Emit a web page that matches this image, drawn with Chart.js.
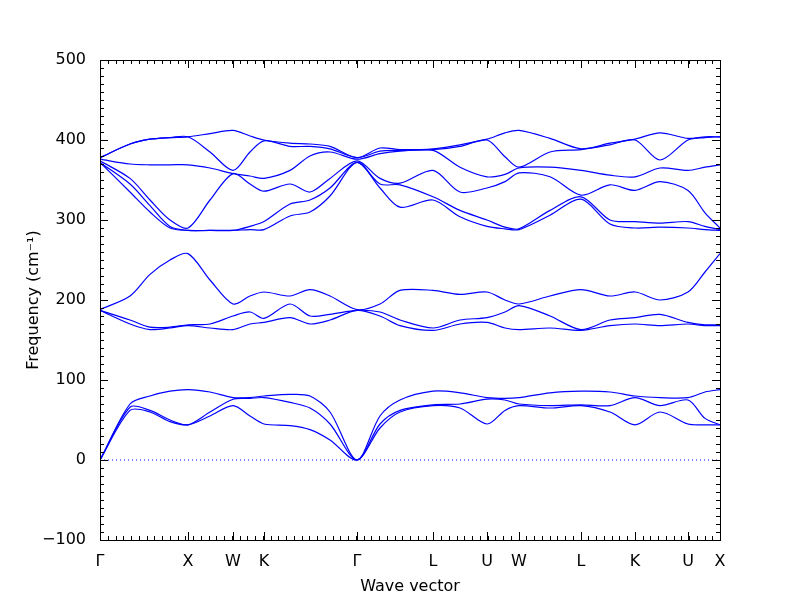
<!DOCTYPE html>
<html><head><meta charset="utf-8">
<script src="https://cdn.jsdelivr.net/npm/chart.js@4/dist/chart.umd.min.js"></script>
<style>html,body{margin:0;padding:0;background:#fff}#w{width:800px;height:600px}</style>
</head><body><div id="w"><canvas id="c" width="800" height="600"></canvas></div>
<script>
// path coordinate (0..620) of sampled q-points
const qPos = [0,30,50,70,88,110,133,150,164,190,210,230,257,280,300,333,360,387,405,419,450,481,510,535,560,588,605,620];
// high-symmetry labels and their path coordinates
const symLabels = ['Γ','X','W','K','Γ','L','U','W','L','K','U','X'];
const symPos = [0,88,133,164,257,333,387,419,481,535,588,620];
// acoustic branches (cm^-1), 3 per q-point
const acoustic = [[0,0,0],[62,66,70],[60,62,80],[48,50,86],[44,44,88],[55,60,85],[68,76,78],[55,77,78],[45,78,80],[43,72,82],[38,65,80],[25,45,60],[0,0,0],[40,45,55],[60,62,75],[68,69,86],[65,70,84],[45,76,78],[62,75,77],[68,70,78],[65,68,84],[68,69,86],[60,68,85],[44,78,80],[60,68,78],[45,75,78],[44,52,85],[44,44,88]];
// lower optical branches
const opticalLow = [[187,187,188],[170,175,205],[163,166,232],[165,166,250],[168,169,258],[165,170,225],[163,180,195],[170,185,205],[172,177,210],[178,195,205],[170,180,213],[175,182,205],[187,187,188],[180,185,195],[168,175,212],[162,165,212],[170,175,207],[172,178,210],[165,185,200],[163,193,195],[165,180,205],[162,163,213],[168,175,205],[170,178,210],[168,182,200],[170,172,210],[168,169,235],[168,169,258]];
// upper optical branches
const opticalHigh = [[372,372,374,376,378,378],[335,345,352,370,395,395],[310,318,325,369,401,401],[290,292,300,369,403,403],[287,287,290,369,404,404],[287,287,325,365,385,408],[287,287,358,358,362,412],[288,292,345,355,385,405],[288,298,336,352,399,400],[305,320,345,362,392,396],[310,325,335,380,392,395],[330,340,352,385,389,392],[372,372,374,376,378,378],[340,345,352,383,386,390],[316,344,346,386,387,388],[325,329,362,387,388,389],[304,312,335,366,392,394],[292,300,340,354,400,401],[289,291,348,357,379,409],[288,289,359,365,366,412],[306,312,354,366,385,402],[326,329,331,362,388,389],[295,300,344,356,394,396],[290,298,337,354,400,401],[291,296,348,365,375,409],[290,298,337,362,400,402],[288,292,309,366,403,404],[287,288,290,369,404,404]];
const yTicks = [-100,0,100,200,300,400,500];

const datasets = [];
[acoustic, opticalLow, opticalHigh].forEach(group => {
  const n = group[0].length;
  for (let b = 0; b < n; b++) {
    datasets.push({data: qPos.map((x,i)=>({x, y: group[i][b]})), borderColor:'#0000ff', borderWidth:1.2,
      pointRadius:0, tension:0.3, fill:false});
  }
});
datasets.push({data:[{x:0,y:0},{x:620,y:0}], borderColor:'#0000ff', borderWidth:1, borderDash:[1,3], pointRadius:0});

const frame = {
  id:'frame',
  afterDatasetsDraw(chart){
    const {ctx, chartArea:a, scales:{x,y}} = chart;
    ctx.save(); ctx.strokeStyle='#000'; ctx.lineWidth=1;
    ctx.strokeRect(a.left+0.5,a.top+0.5,a.right-a.left,a.bottom-a.top);
    ctx.beginPath();
    for (let v=-100; v<=500; v+=10){
      const p=Math.round(y.getPixelForValue(v))+0.5, L = v%100===0?8:4;
      ctx.moveTo(a.left,p); ctx.lineTo(a.left+L,p); ctx.moveTo(a.right,p); ctx.lineTo(a.right-L,p);
    }
    for (let k=0;k<=80;k++){
      const p=Math.round(x.getPixelForValue(k*620/80))+0.5;
      ctx.moveTo(p,a.bottom); ctx.lineTo(p,a.bottom-4); ctx.moveTo(p,a.top); ctx.lineTo(p,a.top+4);
    }
    symPos.forEach(v=>{const p=Math.round(x.getPixelForValue(v))+0.5;
      ctx.moveTo(p,a.bottom); ctx.lineTo(p,a.bottom-8); ctx.moveTo(p,a.top); ctx.lineTo(p,a.top+8);});
    ctx.stroke(); ctx.restore();
  }
};

new Chart(document.getElementById('c'), {
  type:'line',
  data:{datasets},
  plugins:[frame],
  options:{
    responsive:false, animation:false,
    layout:{padding:{left:20,top:60,right:80,bottom:0}},
    plugins:{legend:{display:false},tooltip:{enabled:false}},
    scales:{
      x:{type:'linear',min:0,max:620,
        afterBuildTicks(s){s.ticks=symPos.map(v=>({value:v}));},
        afterFit(s){s.height=60;},
        grid:{display:false},border:{display:false},
        ticks:{autoSkip:false,maxRotation:0,padding:4,color:'#000',font:{family:'DejaVu Sans',size:16},
          callback:(v,i)=>symLabels[i]},
        title:{display:true,text:'Wave vector',color:'#000',font:{family:'DejaVu Sans',size:16},padding:{top:2}}},
      y:{min:-100,max:500,
        afterBuildTicks(s){s.ticks=yTicks.map(v=>({value:v}));},
        afterFit(s){s.width=80;},
        grid:{display:false},border:{display:false},
        ticks:{padding:6,color:'#000',font:{family:'DejaVu Sans',size:16},callback:v=>String(v).replace('-','−')},
        title:{display:true,text:'Frequency (cm⁻¹)',color:'#000',font:{family:'DejaVu Sans',size:16},padding:{bottom:2}}}
    }
  }
});
</script></body></html>
